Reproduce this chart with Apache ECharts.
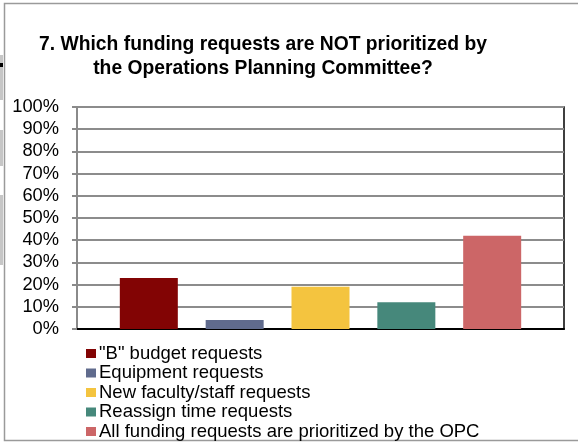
<!DOCTYPE html>
<html>
<head>
<meta charset="utf-8">
<script src="https://cdn.jsdelivr.net/npm/echarts@6/dist/echarts.min.js"></script>
<style>
  html, body { margin: 0; padding: 0; background: #fff; }
  #chart { width: 578px; height: 442px; }
</style>
</head>
<body>
<div id="chart"></div>
<script>
// Survey question 7: share of responses per funding request type
const categories = ['Q7'];
const seriesNames = [
  '"B" budget requests',
  'Equipment requests',
  'New faculty/staff requests',
  'Reassign time requests',
  'All funding requests are prioritized by the OPC'
];
const seriesValues = [23, 4, 19, 12, 42];
const seriesColors = ['#820404', '#606b8d', '#f4c43f', '#46887b', '#cc6667'];
const yTicks = { min: 0, max: 100, interval: 10 };

const chart = echarts.init(document.getElementById('chart'), null, { renderer: 'canvas' });

const series = seriesNames.map((name, i) => ({
  name: name,
  type: 'bar',
  data: [seriesValues[i]],
  barWidth: 58,
  barGap: '48%',
  itemStyle: { color: seriesColors[i] }
}));

const FONT = 'Liberation Sans, Arial, sans-serif';

chart.setOption({
  animation: false,
  backgroundColor: '#ffffff',
  textStyle: { fontFamily: FONT },
  title: {
    text: '7. Which funding requests are NOT prioritized by\nthe Operations Planning Committee?',
    left: 263,
    top: 32,
    padding: 0,
    textAlign: 'center',
    textStyle: {
      fontFamily: FONT,
      fontWeight: 'bold',
      fontSize: 19.3,
      lineHeight: 24.5,
      color: '#000'
    }
  },
  grid: {
    left: 77,
    top: 107,
    width: 487,
    height: 222,
    show: true,
    borderColor: '#000',
    borderWidth: 1.5,
    containLabel: false
  },
  legend: {
    orient: 'vertical',
    left: 86,
    top: 344,
    height: 200,
    padding: 0,
    itemWidth: 10,
    itemHeight: 9,
    itemGap: 0.5,
    icon: 'rect',
    data: seriesNames,
    selectedMode: false,
    textStyle: {
      fontFamily: FONT,
      fontSize: 18.5,
      lineHeight: 17.5,
      color: '#000',
      padding: [0, 0, 0, -2]
    }
  },
  xAxis: {
    type: 'category',
    data: categories,
    axisLine: { show: true, lineStyle: { color: '#000', width: 2 } },
    axisTick: { show: false },
    axisLabel: { show: false },
    splitLine: { show: false }
  },
  yAxis: {
    type: 'value',
    min: yTicks.min,
    max: yTicks.max,
    interval: yTicks.interval,
    axisLine: { show: true, lineStyle: { color: '#8a8a8a', width: 2 } },
    axisTick: { show: true, length: 5, lineStyle: { color: '#8a8a8a', width: 2 } },
    axisLabel: {
      formatter: '{value}%',
      fontFamily: FONT,
      fontSize: 18.3,
      color: '#000',
      margin: 18
    },
    splitLine: { show: true, lineStyle: { color: '#8c8c8c', width: 2 } }
  },
  series: series,
  graphic: [
    // outer frame
    { type: 'rect', shape: { x: 4.5, y: 3.5, width: 600, height: 437 },
      style: { fill: 'none', stroke: '#9a9a9a', lineWidth: 1.5 }, silent: true },
    // slivers of the neighbouring slide on the left edge
    { type: 'rect', shape: { x: 0, y: 55, width: 3, height: 45 }, style: { fill: '#c6c6c6' }, silent: true },
    { type: 'rect', shape: { x: 0, y: 63, width: 3, height: 4 }, style: { fill: '#000' }, silent: true },
    { type: 'rect', shape: { x: 0, y: 130, width: 3, height: 36 }, style: { fill: '#c6c6c6' }, silent: true },
    { type: 'rect', shape: { x: 0, y: 195, width: 3, height: 70 }, style: { fill: '#c6c6c6' }, silent: true }
  ]
});
</script>
</body>
</html>
